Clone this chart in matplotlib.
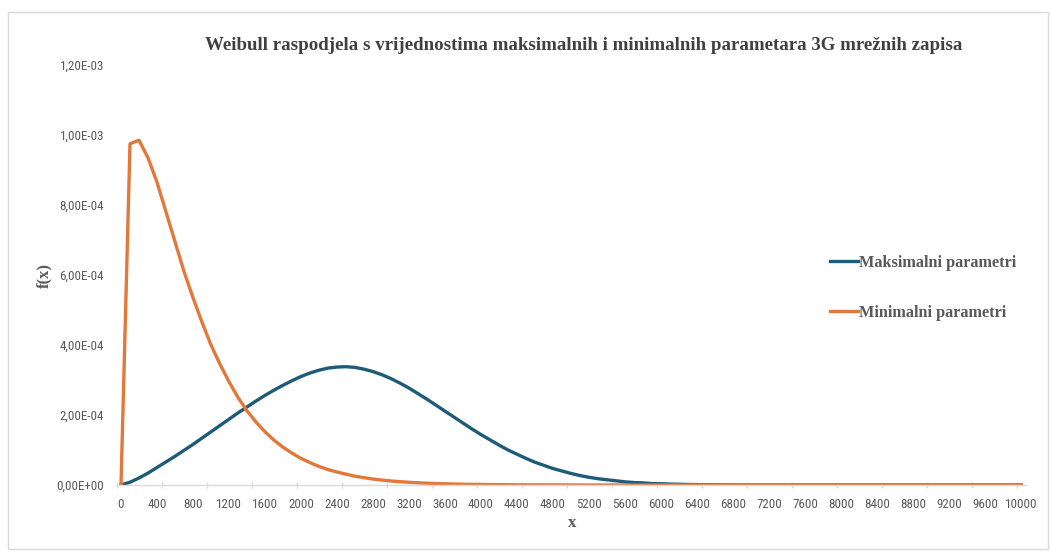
#!/usr/bin/env python3
# -*- coding: utf-8 -*-
"""
Weibull raspodjela - maksimalni i minimalni parametri 3G mreznih zapisa.
Vrijednosti ocitane s grafa (korak x = 100).
"""

import numpy as np
import matplotlib
matplotlib.use('Agg')
import matplotlib.pyplot as plt
from matplotlib import font_manager
from matplotlib.patches import Rectangle
from matplotlib.ticker import FuncFormatter

# x vrijednosti (kategorije 0..10000, korak 100)
x_vals = list(range(0, 10001, 100))

# Maksimalni parametri, f(x) u jedinicama 1e-4, x = 0..7000
max_params = [
    0.00, 0.08, 0.20, 0.34, 0.50, 0.66, 0.82, 0.99, 1.16, 1.34,
    1.52, 1.70, 1.88, 2.06, 2.23, 2.40, 2.56, 2.71, 2.85, 2.98,
    3.10, 3.20, 3.28, 3.34, 3.37, 3.38, 3.36, 3.31, 3.24, 3.15,
    3.04, 2.91, 2.77, 2.61, 2.45, 2.28, 2.11, 1.94, 1.77, 1.60,
    1.44, 1.29, 1.14, 1.00, 0.88, 0.76, 0.65, 0.56, 0.47, 0.40,
    0.33, 0.27, 0.22, 0.18, 0.15, 0.12, 0.09, 0.07, 0.06, 0.04,
    0.035, 0.027, 0.020, 0.015, 0.011, 0.008, 0.006, 0.004, 0.003, 0.002,
    0.001,
]

# Minimalni parametri, f(x) u jedinicama 1e-4, x = 0..5000
min_params = [
    0.00, 9.75, 9.85, 9.35, 8.65, 7.80, 6.95, 6.10, 5.35, 4.65,
    4.00, 3.45, 2.95, 2.50, 2.12, 1.80, 1.52, 1.28, 1.08, 0.91,
    0.76, 0.64, 0.53, 0.44, 0.37, 0.31, 0.25, 0.21, 0.17, 0.14,
    0.115, 0.095, 0.078, 0.063, 0.052, 0.042, 0.034, 0.028, 0.022, 0.018,
    0.015, 0.012, 0.010, 0.008, 0.006, 0.005, 0.004, 0.003, 0.0025, 0.002,
    0.0015,
]

series_labels = ['Maksimalni parametri', 'Minimalni parametri']
series_colors = ['#1d5b78', '#e2783a']

title_text = 'Weibull raspodjela s vrijednostima maksimalnih i minimalnih parametara 3G mrežnih zapisa'
y_ticks = [0, 2e-4, 4e-4, 6e-4, 8e-4, 10e-4, 12e-4]
x_label_ticks = list(range(0, 10001, 400))


def pick_tick_font():
    """Uzmi uski font ako postoji, inace Liberation Sans manje velicine."""
    names = {f.name for f in font_manager.fontManager.ttflist}
    for name in ['Liberation Sans Narrow', 'DejaVu Sans Condensed', 'Roboto Condensed']:
        if name in names:
            return name, 9.4
    return 'Liberation Sans', 8


def pad_series(vals, n):
    """Dopuni nulama do duljine n i pretvori u stvarne vrijednosti."""
    arr = np.zeros(n)
    arr[:len(vals)] = np.array(vals) * 1e-4
    return arr


def sci_comma(v, pos):
    return f"{v:.2E}".replace('.', ',')


def main():
    n = len(x_vals)
    y_max = pad_series(max_params, n)
    y_min = pad_series(min_params, n)
    tick_font, tick_size = pick_tick_font()

    fig = plt.figure(figsize=(10.51, 5.53), dpi=100)
    ax = fig.add_axes([116.5 / 1051, 1 - 485 / 553, 909 / 1051, 420 / 553])

    # okvir grafikona
    fig.patches.append(Rectangle((8 / 1051, 1 - 549 / 553), 1040 / 1051, 537 / 553,
                                 transform=fig.transFigure, fill=False,
                                 edgecolor='#d9d9d9', linewidth=1))

    ax.plot(x_vals, y_max, color=series_colors[0], linewidth=2.4,
            label=series_labels[0], solid_joinstyle='round')
    ax.plot(x_vals, y_min, color=series_colors[1], linewidth=2.4,
            label=series_labels[1], solid_joinstyle='round')

    ax.set_xlim(-50, 10050)
    ax.set_ylim(0, 1.2e-3)

    for side in ['top', 'right', 'left']:
        ax.spines[side].set_visible(False)
    ax.spines['bottom'].set_color('#d9d9d9')
    ax.spines['bottom'].set_linewidth(1)

    ax.set_xticks(x_label_ticks)
    ax.set_xticklabels([str(v) for v in x_label_ticks])
    ax.set_xticks(list(range(-50, 10051, 500)), minor=True)
    ax.tick_params(axis='x', which='major', length=0, pad=9,
                   labelsize=tick_size, labelcolor='#595959')
    ax.tick_params(axis='x', which='minor', length=5, direction='inout',
                   color='#d9d9d9', width=1)
    for lbl in ax.get_xticklabels():
        lbl.set_family(tick_font)

    ax.set_yticks(y_ticks)
    ax.yaxis.set_major_formatter(FuncFormatter(sci_comma))
    ax.tick_params(axis='y', length=0, pad=9, labelsize=tick_size, labelcolor='#595959')
    for lbl in ax.get_yticklabels():
        lbl.set_family(tick_font)

    fig.text(584 / 1051, 1 - 45 / 553, title_text, ha='center', va='center',
             fontsize=13.6, fontweight='bold', family='Liberation Serif',
             color='#404040')
    fig.text(44 / 1051, 1 - 275 / 553, 'f(x)', ha='center', va='center',
             rotation=90, fontsize=12, fontweight='bold',
             family='Liberation Serif', color='#595959')
    fig.text(572 / 1051, 1 - 523 / 553, 'x', ha='center', va='center',
             fontsize=12, fontweight='bold', family='Liberation Serif',
             color='#595959')

    leg = ax.legend(loc='center left', bbox_to_anchor=(822 / 1051, 1 - 288 / 553),
                    bbox_transform=fig.transFigure, frameon=False, borderpad=0,
                    handlelength=1.7, handletextpad=0.1, labelspacing=2.1,
                    prop={'family': 'Liberation Serif', 'weight': 'bold', 'size': 11.7})
    for t in leg.get_texts():
        t.set_color('#595959')

    fig.savefig('out.png', dpi=100, facecolor='white')
    plt.close(fig)


if __name__ == '__main__':
    main()
